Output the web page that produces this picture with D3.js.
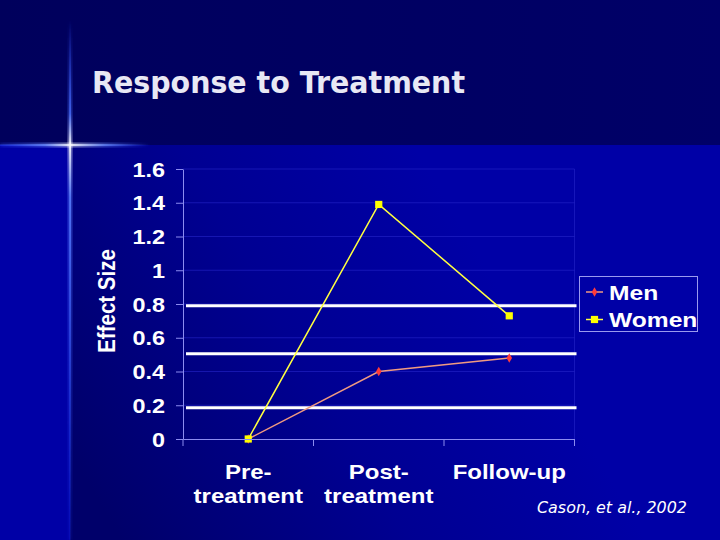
<!DOCTYPE html>
<html>
<head>
<meta charset="utf-8">
<script src="https://cdn.jsdelivr.net/npm/d3@7"></script>
<style>
  html, body { margin: 0; padding: 0; background: #000066; }
  svg { display: block; }
</style>
</head>
<body>
<svg id="chart" width="720" height="540"></svg>
<script>
// ---- data ----
const categories = ["Pre-treatment", "Post-treatment", "Follow-up"];
const categoryLabels = [["Pre-", "treatment"], ["Post-", "treatment"], ["Follow-up"]];
const seriesNames = ["Men", "Women"];
const menValues = [0, 0.40, 0.48];
const womenValues = [0, 1.39, 0.73];
const yTicks = [0, 0.2, 0.4, 0.6, 0.8, 1, 1.2, 1.4, 1.6];
const referenceLines = [0.79, 0.505, 0.185];
const titleText = "Response to Treatment";
const yAxisTitle = "Effect Size";
const citation = "Cason, et al., 2002";

// ---- setup ----
const svg = d3.select("#chart");
const defs = svg.append("defs");
const W = 720, H = 540;
const SX = 1.2; // horizontal stretch of the text in the reference
const LABEL_FONT = "'Liberation Sans', Arial, sans-serif";

// background gradients
const gTop = defs.append("linearGradient").attr("id", "gTop")
  .attr("x1", 0).attr("y1", 0).attr("x2", 1).attr("y2", 0);
gTop.append("stop").attr("offset", 0).attr("stop-color", "#00005c");
gTop.append("stop").attr("offset", 1).attr("stop-color", "#000068");

const gLow = defs.append("linearGradient").attr("id", "gLow")
  .attr("gradientUnits", "userSpaceOnUse")
  .attr("x1", 80).attr("y1", 470).attr("x2", 470).attr("y2", 240);
gLow.append("stop").attr("offset", 0).attr("stop-color", "#00006a");
gLow.append("stop").attr("offset", 0.55).attr("stop-color", "#000092");
gLow.append("stop").attr("offset", 1).attr("stop-color", "#0000a6");

const gV = defs.append("linearGradient").attr("id", "gV")
  .attr("gradientUnits", "userSpaceOnUse")
  .attr("x1", 0).attr("y1", 20).attr("x2", 0).attr("y2", 540);
gV.append("stop").attr("offset", 0).attr("stop-color", "#3050ff").attr("stop-opacity", 0);
gV.append("stop").attr("offset", 0.18).attr("stop-color", "#4a70ff").attr("stop-opacity", 0.8);
gV.append("stop").attr("offset", 0.24).attr("stop-color", "#ffffff").attr("stop-opacity", 1);
gV.append("stop").attr("offset", 0.34).attr("stop-color", "#5a80ff").attr("stop-opacity", 0.9);
gV.append("stop").attr("offset", 1).attr("stop-color", "#2040ff").attr("stop-opacity", 0.15);

const gH = defs.append("linearGradient").attr("id", "gH")
  .attr("gradientUnits", "userSpaceOnUse")
  .attr("x1", 0).attr("y1", 0).attr("x2", 150).attr("y2", 0);
gH.append("stop").attr("offset", 0).attr("stop-color", "#3050ff").attr("stop-opacity", 0.4);
gH.append("stop").attr("offset", 0.3).attr("stop-color", "#6a8cff").attr("stop-opacity", 0.9);
gH.append("stop").attr("offset", 0.47).attr("stop-color", "#ffffff").attr("stop-opacity", 1);
gH.append("stop").attr("offset", 0.7).attr("stop-color", "#6a8cff").attr("stop-opacity", 0.8);
gH.append("stop").attr("offset", 1).attr("stop-color", "#3050ff").attr("stop-opacity", 0);

defs.append("filter").attr("id", "blur").append("feGaussianBlur").attr("stdDeviation", 1.6);

svg.append("rect").attr("width", W).attr("height", 145).attr("fill", "url(#gTop)");
svg.append("rect").attr("x", 0).attr("y", 145).attr("width", 70).attr("height", H - 145).attr("fill", "#0000a6");
svg.append("rect").attr("x", 70).attr("y", 145).attr("width", W - 70).attr("height", H - 145).attr("fill", "url(#gLow)");

// glow cross
const glow = svg.append("g");
glow.append("rect").attr("x", 68).attr("y", 20).attr("width", 4).attr("height", 520)
  .attr("fill", "url(#gV)").attr("filter", "url(#blur)").attr("opacity", 0.7);
glow.append("rect").attr("x", 69.3).attr("y", 20).attr("width", 1.6).attr("height", 520).attr("fill", "url(#gV)");
glow.append("rect").attr("x", 0).attr("y", 143).attr("width", 150).attr("height", 4)
  .attr("fill", "url(#gH)").attr("filter", "url(#blur)").attr("opacity", 0.7);
glow.append("rect").attr("x", 0).attr("y", 144.2).attr("width", 150).attr("height", 1.6).attr("fill", "url(#gH)");

// title
svg.append("text")
  .attr("x", 92).attr("y", 93)
  .attr("textLength", 373).attr("lengthAdjust", "spacingAndGlyphs")
  .style("font-family", "'DejaVu Sans', Verdana, sans-serif")
  .style("font-weight", "bold").style("font-size", "30px")
  .attr("fill", "#e8e8f4")
  .text(titleText);

// ---- scales ----
const x = d3.scaleBand().domain(categories).range([183, 574.5]).padding(0);
const y = d3.scaleLinear().domain([0, 1.6]).range([439, 169]);
const cx = c => x(c) + x.bandwidth() / 2;

const plot = svg.append("g");

// gridlines
plot.selectAll("line.grid").data(yTicks.filter(t => t > 0)).join("line")
  .attr("class", "grid")
  .attr("x1", x.range()[0]).attr("x2", x.range()[1])
  .attr("y1", d => y(d)).attr("y2", d => y(d))
  .attr("stroke", "#2626c8").attr("stroke-width", 1).attr("opacity", 0.6);
// right plot border
plot.append("line")
  .attr("x1", x.range()[1]).attr("x2", x.range()[1])
  .attr("y1", y(1.6)).attr("y2", y(0))
  .attr("stroke", "#2626c8").attr("stroke-width", 1).attr("opacity", 0.6);

// reference lines (white)
plot.selectAll("line.ref").data(referenceLines).join("line")
  .attr("class", "ref")
  .attr("x1", x.range()[0] + 3).attr("x2", x.range()[1] + 2)
  .attr("y1", d => y(d)).attr("y2", d => y(d))
  .attr("stroke", "#ffffff").attr("stroke-width", 3);

// y axis
const AXIS_COLOR = "#8c8cf0";
const yAxisG = svg.append("g").attr("transform", `translate(${x.range()[0]},0)`)
  .call(d3.axisLeft(y).tickValues(yTicks).tickSize(7).tickSizeOuter(0).tickFormat(d3.format("~g")));
yAxisG.select(".domain").attr("stroke", AXIS_COLOR);
yAxisG.selectAll(".tick line").attr("stroke", AXIS_COLOR);
yAxisG.selectAll(".tick text")
  .attr("x", -18 / SX).attr("dy", "0.37em")
  .attr("transform", `scale(${SX},1)`)
  .attr("fill", "#ffffff")
  .style("font-family", LABEL_FONT).style("font-weight", "bold").style("font-size", "19.5px");

// x axis (line + ticks at band edges)
const xAxisG = svg.append("g").attr("transform", `translate(0,${y(0)})`)
  .call(d3.axisBottom(x).tickSize(0).tickSizeOuter(0).tickFormat(""));
xAxisG.select(".domain").attr("stroke", AXIS_COLOR);
const edges = categories.map(c => x(c)).concat([x.range()[1]]);
xAxisG.selectAll("line.edge").data(edges).join("line")
  .attr("class", "edge")
  .attr("x1", d => d).attr("x2", d => d).attr("y1", 0).attr("y2", 7)
  .attr("stroke", AXIS_COLOR);

// category labels
categories.forEach((c, i) => {
  const t = svg.append("text")
    .attr("transform", `translate(${cx(c)},479) scale(${SX},1)`)
    .attr("text-anchor", "middle")
    .attr("fill", "#ffffff")
    .style("font-family", LABEL_FONT).style("font-weight", "bold").style("font-size", "20px");
  categoryLabels[i].forEach((line, j) => {
    t.append("tspan").attr("x", 0).attr("y", j * 24).text(line);
  });
});

// y axis title
svg.append("text")
  .attr("transform", `translate(115,301) rotate(-90) scale(1,${SX})`)
  .attr("text-anchor", "middle")
  .attr("fill", "#ffffff")
  .style("font-family", LABEL_FONT).style("font-weight", "bold").style("font-size", "20.5px")
  .text(yAxisTitle);

// ---- series ----
const series = [
  { name: seriesNames[0], values: menValues, line: "#f09a80", marker: "#ff3a3a", symbol: d3.symbolDiamond, size: 26 },
  { name: seriesNames[1], values: womenValues, line: "#ffff40", marker: "#ffff00", symbol: d3.symbolSquare, size: 52 }
];
const lineGen = d3.line().x((d, i) => cx(categories[i])).y(d => y(d));

series.forEach(s => {
  plot.append("path").datum(s.values)
    .attr("d", lineGen).attr("fill", "none")
    .attr("stroke", s.line).attr("stroke-width", 1.5);
});
series.forEach(s => {
  plot.selectAll(null).data(s.values).join("path")
    .attr("d", d3.symbol(s.symbol, s.size))
    .attr("transform", (d, i) => `translate(${cx(categories[i])},${y(d)})`)
    .attr("fill", s.marker);
});

// ---- legend ----
const legend = svg.append("g");
legend.append("rect").attr("x", 579.5).attr("y", 276.5).attr("width", 118).attr("height", 55)
  .attr("fill", "none").attr("stroke", "#9a9aee").attr("stroke-width", 1);
series.forEach((s, i) => {
  const ly = 292 + i * 27.5;
  legend.append("line").attr("x1", 586).attr("x2", 603).attr("y1", ly).attr("y2", ly)
    .attr("stroke", s.line).attr("stroke-width", 1.5);
  legend.append("path").attr("d", d3.symbol(s.symbol, s.size))
    .attr("transform", `translate(594.5,${ly})`).attr("fill", s.marker);
  legend.append("text")
    .attr("transform", `translate(609,${ly + 7.5}) scale(${SX},1)`)
    .attr("fill", "#ffffff")
    .style("font-family", LABEL_FONT).style("font-weight", "bold").style("font-size", "20.5px")
    .text(s.name);
});

// citation
svg.append("text")
  .attr("x", 537).attr("y", 513)
  .attr("textLength", 150).attr("lengthAdjust", "spacingAndGlyphs")
  .attr("fill", "#ffffff")
  .style("font-family", "'DejaVu Sans', Verdana, sans-serif")
  .style("font-style", "italic").style("font-size", "15.5px")
  .text(citation);
</script>
</body>
</html>
